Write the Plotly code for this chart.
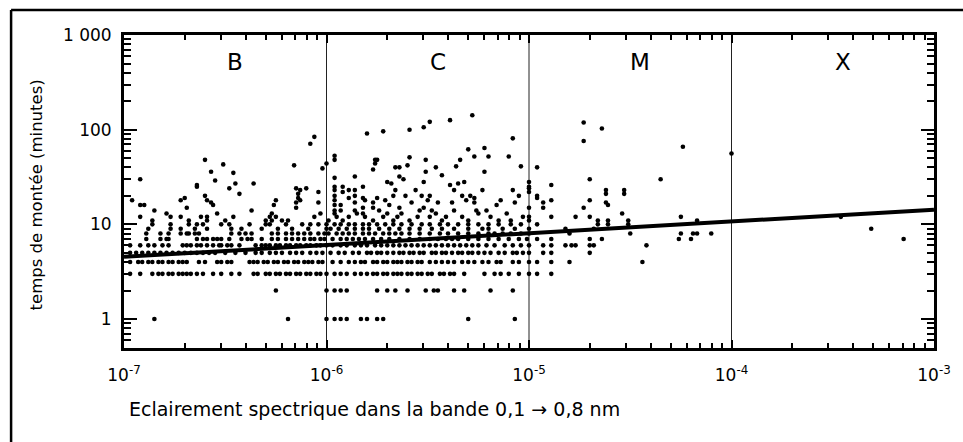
import numpy as np
import plotly.graph_objects as go

# ---------------- data ----------------
# rise times are integer minutes; for each minute value, the log10 of the flux of each flare
row_minutes = [1, 2, 3, 4, 5, 6, 7, 8, 9, 10]

row_1 = [-6.85, -6.19, -6.00, -5.96, -5.93, -5.90, -5.83, -5.80, -5.75, -5.72, -5.30, -5.07]
row_2 = [-6.25, -6.00, -5.96, -5.93, -5.90, -5.75, -5.70, -5.66, -5.60, -5.51, -5.47, -5.45,
         -5.37, -5.32, -5.19, -5.08]
row_3 = [-6.97, -6.92, -6.86, -6.83, -6.81, -6.78, -6.76, -6.73, -6.71, -6.69, -6.67, -6.64,
         -6.61, -6.56, -6.52, -6.47, -6.43, -6.36, -6.34, -6.30, -6.28, -6.25, -6.23, -6.20,
         -6.18, -6.15, -6.13, -6.10, -6.08, -6.05, -6.03, -6.00, -5.96, -5.93, -5.90, -5.86,
         -5.83, -5.80, -5.77, -5.75, -5.72, -5.70, -5.67, -5.65, -5.63, -5.60, -5.58, -5.55,
         -5.53, -5.50, -5.48, -5.44, -5.42, -5.39, -5.37, -5.32, -5.22, -5.17, -5.14, -5.10,
         -5.05, -5.00, -4.96, -4.89]
row_4 = [-6.97, -6.93, -6.91, -6.88, -6.86, -6.83, -6.81, -6.78, -6.76, -6.73, -6.71, -6.69,
         -6.63, -6.60, -6.54, -6.52, -6.49, -6.47, -6.38, -6.36, -6.34, -6.31, -6.29, -6.26,
         -6.24, -6.21, -6.19, -6.16, -6.14, -6.11, -6.09, -6.07, -6.04, -6.02, -5.97, -5.93,
         -5.89, -5.86, -5.83, -5.81, -5.77, -5.75, -5.72, -5.70, -5.67, -5.65, -5.63, -5.60,
         -5.58, -5.55, -5.53, -5.49, -5.46, -5.43, -5.40, -5.37, -5.33, -5.30, -5.27, -5.23,
         -5.20, -5.16, -5.14, -5.08, -5.05, -5.00, -4.96, -4.89, -4.80, -4.44]
row_5 = [-6.97, -6.94, -6.91, -6.88, -6.85, -6.82, -6.79, -6.76, -6.73, -6.70, -6.67, -6.64,
         -6.61, -6.58, -6.55, -6.50, -6.45, -6.40, -6.35, -6.32, -6.28, -6.25, -6.22, -6.18,
         -6.15, -6.12, -6.08, -6.05, -6.02, -5.98, -5.94, -5.91, -5.87, -5.84, -5.80, -5.78,
         -5.75, -5.73, -5.70, -5.67, -5.64, -5.62, -5.59, -5.57, -5.54, -5.52, -5.48, -5.46,
         -5.43, -5.41, -5.38, -5.35, -5.33, -5.30, -5.28, -5.25, -5.22, -5.19, -5.15, -5.12,
         -5.08, -5.06, -5.03, -5.00, -4.93, -4.89, -4.70]
row_6 = [-6.97, -6.92, -6.88, -6.85, -6.81, -6.78, -6.71, -6.69, -6.67, -6.64, -6.62, -6.59,
         -6.56, -6.53, -6.52, -6.49, -6.47, -6.43, -6.35, -6.32, -6.30, -6.28, -6.25, -6.23,
         -6.20, -6.18, -6.15, -6.13, -6.10, -6.08, -6.05, -6.03, -6.00, -5.97, -5.93, -5.90,
         -5.86, -5.83, -5.80, -5.76, -5.73, -5.70, -5.67, -5.64, -5.61, -5.58, -5.55, -5.52,
         -5.49, -5.46, -5.43, -5.40, -5.37, -5.34, -5.31, -5.28, -5.25, -5.21, -5.17, -5.12,
         -5.08, -5.04, -5.00, -4.93, -4.89, -4.82, -4.79, -4.77, -4.70, -4.68, -4.42]
row_7 = [-6.89, -6.82, -6.79, -6.78, -6.64, -6.61, -6.59, -6.56, -6.54, -6.52, -6.48, -6.42,
         -6.39, -6.37, -6.32, -6.27, -6.24, -6.20, -6.17, -6.14, -6.11, -6.08, -6.06, -6.03,
         -6.01, -5.97, -5.93, -5.90, -5.87, -5.84, -5.81, -5.77, -5.73, -5.69, -5.64, -5.59,
         -5.54, -5.49, -5.45, -5.41, -5.38, -5.35, -5.30, -5.25, -5.20, -5.15, -5.10, -5.05,
         -5.01, -4.96, -4.89, -4.70, -4.64, -4.26, -4.20, -3.15]
row_8 = [-6.89, -6.82, -6.78, -6.72, -6.69, -6.68, -6.65, -6.63, -6.47, -6.43, -6.40, -6.37,
         -6.27, -6.24, -6.20, -6.17, -6.14, -6.11, -6.08, -6.04, -6.01, -5.99, -5.95, -5.92,
         -5.89, -5.86, -5.82, -5.79, -5.76, -5.72, -5.69, -5.66, -5.63, -5.59, -5.54, -5.49,
         -5.44, -5.40, -5.35, -5.30, -5.25, -5.20, -5.17, -5.13, -5.09, -5.04, -5.00, -4.80,
         -4.50, -4.25, -4.19, -4.17, -4.10]
row_9 = [-6.88, -6.77, -6.72, -6.65, -6.59, -6.47, -6.42, -6.32, -6.24, -6.17, -6.09, -6.00,
         -5.98, -5.94, -5.90, -5.86, -5.82, -5.79, -5.74, -5.69, -5.64, -5.59, -5.54, -5.48,
         -5.43, -5.37, -5.30, -5.23, -5.20, -5.13, -5.07, -5.00, -4.82, -4.68, -3.31]
row_10 = [-6.86, -6.77, -6.68, -6.64, -6.61, -6.52, -6.48, -6.38, -6.30, -6.28, -6.20, -6.12,
          -6.08, -6.04, -6.00, -5.96, -5.93, -5.89, -5.86, -5.82, -5.79, -5.75, -5.71, -5.67,
          -5.63, -5.58, -5.53, -5.49, -5.44, -5.40, -5.35, -5.30, -5.25, -5.20, -5.15, -5.09,
          -5.04, -4.96, -4.66, -4.61, -4.51]

# flares with rise times above 10 minutes: log10(flux), minutes
upper_flux_exp = [
    -6.92, -6.96, -6.92, -6.90, -6.85, -6.92, -6.86, -6.79, -6.77, -6.72, -6.70, -6.69,
    -6.72, -6.68, -6.64, -6.60, -6.60, -6.59, -6.57, -6.56, -6.62, -6.59, -6.59, -6.57,
    -6.55, -6.54, -6.51, -6.48, -6.46, -6.45, -6.43, -6.50, -6.46, -6.37, -6.36, -6.30,
    -6.27, -6.25, -6.26, -6.25, -6.27, -6.28, -6.22, -6.19, -6.16, -6.15, -6.14, -6.14,
    -6.13, -6.15, -6.15, -6.13, -6.10, -6.08, -6.06, -6.04, -6.04, -6.03, -6.06, -6.02,
    -6.00, -6.64,
    -5.80, -5.72, -5.59, -5.52, -5.49, -5.39, -5.28, -5.96, -5.96, -5.76, -5.75, -5.76,
    -5.77, -5.66, -5.64, -5.62, -5.64, -5.70, -5.68, -5.59, -5.60, -5.51, -5.51, -5.52,
    -5.46, -5.43, -5.36, -5.34, -5.30, -5.22, -5.27, -5.20, -5.22, -5.10, -5.08, -5.04,
    -5.86, -5.96, -5.96, -5.96, -5.96, -5.96, -5.92, -5.92, -5.89, -5.86, -5.86, -5.89,
    -5.82, -5.81, -5.77, -5.75, -5.77, -5.74, -5.71, -5.69, -5.70, -5.66, -5.67, -5.64,
    -5.63, -5.61, -5.58, -5.56, -5.54, -5.53, -5.52, -5.50, -5.49, -5.49, -5.48, -5.46,
    -5.45, -5.39, -5.37, -5.35, -5.32, -5.33, -5.31, -5.29, -5.27, -5.27, -5.26, -5.25,
    -5.38, -5.37, -5.33, -5.30, -5.23, -5.21, -5.16, -5.14, -5.11, -5.08, -5.07, -5.05,
    -5.03, -5.00, -5.00,
    -5.99, -5.95, -5.92, -5.89, -5.85, -5.81, -5.77, -5.72, -5.67, -5.65, -5.59, -5.55,
    -5.43, -5.41, -5.19, -5.15, -5.09, -5.96, -5.96, -5.96, -5.93, -5.93, -5.86, -5.86,
    -5.82, -5.82, -5.82,
    -4.73, -4.73, -4.64, -4.96, -4.70, -4.35, -4.24, -4.00, -5.00, -5.00, -5.00, -4.89,
    -4.96, -4.96, -4.93, -4.93, -4.89, -5.00, -5.00, -4.89, -4.62, -4.62, -4.62, -4.61,
    -4.53, -4.53, -4.70, -4.73, -4.70, -4.77, -4.66, -4.61, -4.54, -4.25, -4.17, -4.51,
    -3.46]
upper_minutes = [
    30, 18, 16, 16, 14, 12, 11, 13, 12, 18, 19, 15,
    12, 11, 25, 48, 20, 18, 17, 16, 12, 12, 11, 36,
    29, 13, 43, 24, 35, 27, 21, 11, 12, 14, 27, 11,
    11, 12, 16, 18, 13, 12, 11, 11, 42, 24, 21, 19,
    18, 17, 15, 23, 24, 71, 84, 22, 17, 13, 12, 39,
    44, 26,
    91, 96, 100, 106, 121, 126, 142, 53, 48, 48, 48, 44,
    38, 40, 40, 30, 32, 28, 27, 51, 42, 48, 36, 28,
    40, 33, 41, 48, 62, 64, 52, 52, 36, 52, 81, 41,
    32, 31, 25, 23, 20, 18, 25, 22, 23, 23, 20, 19,
    25, 18, 17, 19, 15, 14, 18, 16, 13, 23, 20, 15,
    13, 20, 17, 23, 14, 20, 15, 18, 20, 12, 14, 13,
    17, 26, 23, 27, 28, 20, 18, 20, 19, 17, 14, 13,
    17, 14, 12, 11, 23, 14, 16, 18, 13, 23, 17, 20,
    12, 24, 15,
    11, 12, 11, 12, 13, 12, 11, 12, 11, 12, 11, 12,
    11, 12, 12, 11, 11, 16, 14, 13, 16, 14, 17, 14,
    19, 15, 13,
    119, 76, 103, 40, 30, 30, 66, 56, 28, 25, 22, 26,
    19, 20, 17, 15, 18, 12, 11, 12, 23, 21, 17, 16,
    23, 21, 18, 15, 12, 12, 11, 11, 13, 12, 11, 11,
    12]

# fitted power law (end points)
fit_flux = [1e-7, 1e-3]
fit_minutes = [4.54, 14.3]

# flare classes
class_names = ["B", "C", "M", "X"]
class_edges = [1e-7, 1e-6, 1e-5, 1e-4, 1e-3]

x_tick_vals = [1e-7, 1e-6, 1e-5, 1e-4, 1e-3]
x_tick_text = ["10<sup>-7</sup>", "10<sup>-6</sup>", "10<sup>-5</sup>", "10<sup>-4</sup>", "10<sup>-3</sup>"]
y_tick_vals = [1, 10, 100, 1000]
y_tick_text = ["1", "10", "100", "1 000"]

x_title = "Eclairement spectrique dans la bande 0,1 \u2192 0,8 nm"
y_title = "temps de mont\u00e9e (minutes)"

# ---------------- build figure ----------------
rows = [row_1, row_2, row_3, row_4, row_5, row_6, row_7, row_8, row_9, row_10]
xs, ys = [], []
for m, r in zip(row_minutes, rows):
    xs += [10 ** e for e in r]
    ys += [m] * len(r)
xs += [10 ** e for e in upper_flux_exp]
ys += upper_minutes

y_lo_log, y_hi_log = -0.306, 3.0
y_lo, y_hi = 10 ** y_lo_log, 10 ** y_hi_log

# minor tick positions (2..9 within each decade)
x_minor = [k * 10.0 ** d for d in range(-7, -3) for k in range(2, 10)]
y_minor = [k * 10.0 ** d for d in range(-1, 3) for k in range(2, 10) if k * 10.0 ** d > y_lo]

FONT = "DejaVu Sans"

fig = go.Figure()

# class boundaries
vx, vy = [], []
for b in class_edges[1:-1]:
    vx += [b, b, None]
    vy += [y_lo, y_hi, None]
fig.add_trace(go.Scatter(x=vx, y=vy, mode="lines", line=dict(color="#222222", width=1),
                         hoverinfo="skip", showlegend=False))

fig.add_trace(go.Scatter(x=xs, y=ys, mode="markers",
                         marker=dict(color="black", size=4.6, line=dict(width=0)),
                         hoverinfo="skip", showlegend=False))

fig.add_trace(go.Scatter(x=fit_flux, y=fit_minutes, mode="lines",
                         line=dict(color="black", width=4), hoverinfo="skip", showlegend=False))

# class labels
for name, lo in zip(class_names, class_edges[:-1]):
    fig.add_annotation(x=np.log10(lo) + 0.55, y=0.915, xref="x", yref="paper",
                       text=name, showarrow=False, xanchor="center", yanchor="middle",
                       font=dict(family=FONT, size=23, color="black"))

# axis titles
fig.add_annotation(x=-0.1076, y=0.49, xref="paper", yref="paper", text=y_title,
                   textangle=-90, showarrow=False, xanchor="center", yanchor="middle",
                   font=dict(family=FONT, size=16.5, color="black"))
fig.add_annotation(x=0.004, y=-0.195, xref="paper", yref="paper", text=x_title,
                   showarrow=False, xanchor="left", yanchor="middle",
                   font=dict(family=FONT, size=19, color="black"))

# outer frame (top and left edges visible)
fig.add_shape(type="line", xref="paper", yref="paper", x0=-0.1394, x1=1.1, y0=1.0799, y1=1.0799,
              line=dict(color="black", width=2.5))
fig.add_shape(type="line", xref="paper", yref="paper", x0=-0.1394, x1=-0.1394, y0=-0.35, y1=1.0799,
              line=dict(color="black", width=2.5))

fig.update_xaxes(type="log", range=[-7, -3], tickmode="array", tickvals=x_tick_vals, ticktext=x_tick_text,
                 ticks="inside", ticklen=8, tickwidth=2, tickcolor="black",
                 showline=True, linewidth=3, linecolor="black", mirror="allticks",
                 showgrid=False, zeroline=False,
                 minor=dict(tickmode="array", tickvals=x_minor, ticks="inside", ticklen=5,
                            tickwidth=2, tickcolor="black", showgrid=False),
                 tickfont=dict(family=FONT, size=17, color="black"), ticklabelstandoff=10)
fig.update_yaxes(type="log", range=[y_lo_log, y_hi_log], tickmode="array", tickvals=y_tick_vals,
                 ticktext=y_tick_text,
                 ticks="inside", ticklen=13, tickwidth=2, tickcolor="black",
                 showline=True, linewidth=3, linecolor="black", mirror="allticks",
                 showgrid=False, zeroline=False,
                 minor=dict(tickmode="array", tickvals=y_minor, ticks="inside", ticklen=7,
                            tickwidth=2, tickcolor="black", showgrid=False),
                 tickfont=dict(family=FONT, size=17, color="black"), ticklabelstandoff=6)

fig.update_layout(width=963, height=442, margin=dict(l=124, r=21, t=35, b=94),
                  plot_bgcolor="white", paper_bgcolor="white", showlegend=False,
                  hovermode=False)

fig.write_html("out.html")
